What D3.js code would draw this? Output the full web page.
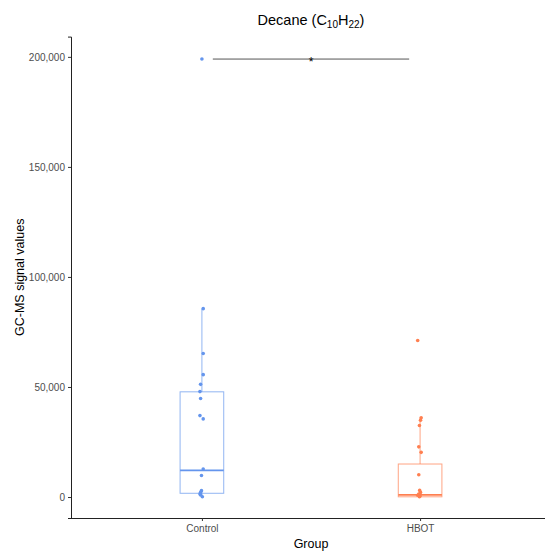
<!DOCTYPE html>
<html><head><meta charset="utf-8">
<script src="https://cdn.jsdelivr.net/npm/d3@7"></script>
<style>body{margin:0;background:#fff}</style>
</head><body>
<svg id="chart" width="545" height="554"></svg>
<script>
const categories = ["Control", "HBOT"];
const colors = ["#6495ED", "#FF7F50"];
// box statistics
const q1 = [1700, 100];
const medians = [12100, 1000];
const q3 = [47800, 15000];
const whiskerLow = [0, 0];
const whiskerHigh = [85600, 36100];
// jittered points (values), with small horizontal jitter in category units
const controlValues = [199000, 85600, 65200, 55600, 51200, 47900, 44800, 37000, 35500, 12700, 9800, 2900, 2100, 1400, 900, 100];
const controlJitter = [0.0, 0.006, 0.006, 0.006, -0.006, -0.009, -0.006, -0.009, 0.006, 0.006, -0.002, -0.002, -0.006, -0.009, -0.006, 0.002];
const hbotValues = [71100, 36000, 34900, 32500, 22800, 20300, 10100, 3000, 2100, 1400, 800, 500, 100];
const hbotJitter = [-0.011, 0.005, 0.002, -0.003, -0.006, 0.005, -0.006, -0.002, 0.002, -0.006, -0.011, 0.0, -0.003];
const yTicks = [0, 50000, 100000, 150000, 200000];
const sigBracket = {from: "Control", to: "HBOT", value: 199000, label: "*"};

const svg = d3.select("#chart");
const font = "'Liberation Sans', Arial, sans-serif";
const pLeft = 71, pRight = 551, pTop = 36.6, pBottom = 518;

const x = d3.scalePoint().domain(categories).range([pLeft, pRight]).padding(0.6);
const unit = x.step();
const y = d3.scaleLinear().domain([-9530, 209200]).range([pBottom, pTop]);

// axes
const yAxis = d3.axisLeft(y).tickValues(yTicks).tickSize(3).tickPadding(3).tickFormat(d3.format(","));
const gy = svg.append("g").attr("transform", `translate(${pLeft},0)`).call(yAxis);
gy.select(".domain").attr("stroke", "#222").attr("stroke-width", 1);
gy.selectAll(".tick line").attr("stroke", "#333");
gy.selectAll(".tick text").attr("fill", "#4d4d4d").style("font-family", font).style("font-size", "10px");

const xAxis = d3.axisBottom(x).tickSize(3).tickPadding(4);
const gx = svg.append("g").attr("transform", `translate(0,${pBottom})`).call(xAxis);
gx.select(".domain").attr("stroke", "#222").attr("stroke-width", 1).attr("d", `M${pLeft},0.5H545`);
gx.selectAll(".tick line").attr("stroke", "#333");
gx.selectAll(".tick text").attr("fill", "#4d4d4d").style("font-family", font).style("font-size", "10px");

// boxes
const boxW = unit * 0.2;
categories.forEach((c, i) => {
  const cx = x(c);
  const g = svg.append("g").attr("stroke", colors[i]).attr("fill", "none");
  g.append("line").attr("x1", cx).attr("x2", cx).attr("y1", y(q3[i])).attr("y2", y(whiskerHigh[i]))
    .attr("stroke-opacity", 0.7).attr("stroke-width", 1);
  g.append("line").attr("x1", cx).attr("x2", cx).attr("y1", y(q1[i])).attr("y2", y(whiskerLow[i]))
    .attr("stroke-opacity", 0.7).attr("stroke-width", 1);
  g.append("rect").attr("x", cx - boxW / 2).attr("width", boxW)
    .attr("y", y(q3[i])).attr("height", y(q1[i]) - y(q3[i]))
    .attr("stroke-opacity", 0.7).attr("stroke-width", 1);
  g.append("line").attr("x1", cx - boxW / 2).attr("x2", cx + boxW / 2)
    .attr("y1", y(medians[i])).attr("y2", y(medians[i])).attr("stroke-width", 1.8);
});

// points
const series = [[controlValues, controlJitter], [hbotValues, hbotJitter]];
series.forEach(([vals, jit], i) => {
  svg.append("g").selectAll("circle").data(vals).join("circle")
    .attr("cx", (d, k) => x(categories[i]) + jit[k] * unit)
    .attr("cy", d => y(d))
    .attr("r", 1.8)
    .attr("fill", colors[i]);
});

// significance bracket
const bx1 = x(sigBracket.from) + unit * 0.05, bx2 = x(sigBracket.to) - unit * 0.05;
svg.append("line").attr("x1", bx1).attr("x2", bx2).attr("y1", y(sigBracket.value)).attr("y2", y(sigBracket.value))
  .attr("stroke", "#555").attr("stroke-width", 1);
svg.append("text").attr("x", (bx1 + bx2) / 2).attr("y", y(sigBracket.value) + 7)
  .attr("text-anchor", "middle").style("font-family", font).style("font-size", "12px").attr("fill", "#000")
  .text(sigBracket.label);

// title
const title = svg.append("text").attr("x", (pLeft + pRight) / 2).attr("y", 25)
  .attr("text-anchor", "middle").style("font-family", font).style("font-size", "14.5px").attr("fill", "#000");
title.append("tspan").text("Decane (C");
title.append("tspan").attr("dy", 3).style("font-size", "10px").text("10");
title.append("tspan").attr("dy", -3).text("H");
title.append("tspan").attr("dy", 3).style("font-size", "10px").text("22");
title.append("tspan").attr("dy", -3).text(")");

// axis titles
svg.append("text").attr("x", (pLeft + pRight) / 2).attr("y", 548)
  .attr("text-anchor", "middle").style("font-family", font).style("font-size", "12.5px").attr("fill", "#000")
  .text("Group");
svg.append("text").attr("transform", `translate(24,${(pTop + pBottom) / 2}) rotate(-90)`)
  .attr("text-anchor", "middle").style("font-family", font).style("font-size", "12.5px").attr("fill", "#000")
  .text("GC-MS signal values");
</script>
</body></html>
